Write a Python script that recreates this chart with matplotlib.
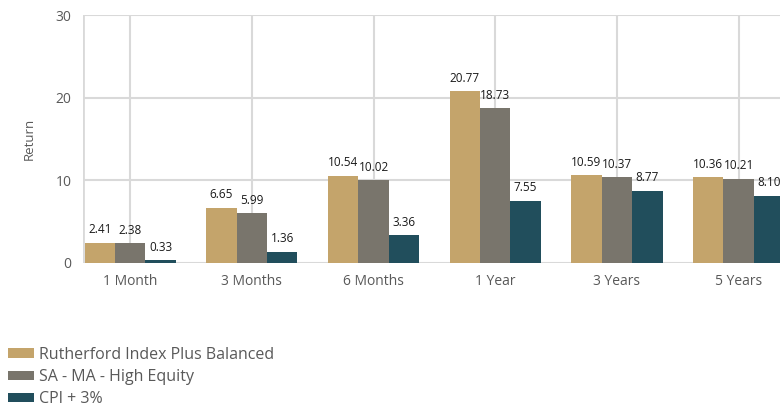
import numpy as np
import matplotlib.pyplot as plt

plt.rcParams['font.family'] = ['Open Sans', 'DejaVu Sans']

periods = ['1 Month', '3 Months', '6 Months', '1 Year', '3 Years', '5 Years']
rutherford = [2.41, 6.65, 10.54, 20.77, 10.59, 10.36]
high_equity = [2.38, 5.99, 10.02, 18.73, 10.37, 10.21]
cpi = [0.33, 1.36, 3.36, 7.55, 8.77, 8.10]

names = ['Rutherford Index Plus Balanced', 'SA - MA - High Equity', 'CPI + 3%']
colors = ['#C4A46B', '#79756C', '#214E5C']

fig = plt.figure(figsize=(7.8, 4.09), dpi=100)
ax = fig.add_axes([0.106, 0.357, 0.894, 0.606])

x = np.arange(len(periods))
w = 0.25
for i, (vals, name, c) in enumerate(zip([rutherford, high_equity, cpi], names, colors)):
    bars = ax.bar(x + (i - 1) * w, vals, w, color=c, label=name, zorder=3)
    for b, v in zip(bars, vals):
        ax.text(b.get_x() + b.get_width() / 2, v + 0.8, f'{v:.2f}',
                ha='center', va='bottom', fontsize=8.5, color='#1a1a1a', zorder=4)

ax.set_xlim(-0.39, 5.34)
ax.set_ylim(0, 30)
ax.set_yticks([0, 10, 20, 30])
ax.set_xticks(x)
ax.set_xticklabels(periods)
ax.grid(True, color='#d9d9d9', linewidth=1.5, zorder=0)
for s in ['top', 'right', 'bottom', 'left']:
    ax.spines[s].set_visible(False)
ax.axhline(0, color='#d9d9d9', linewidth=2, zorder=2)
ax.axvline(-0.39, color='#d9d9d9', linewidth=2, zorder=2)
ax.tick_params(length=0, labelsize=10, colors='#595959', pad=8)
ax.set_ylabel('Return', fontsize=9.5, color='#595959', labelpad=14)

fig.legend(loc='upper left', bbox_to_anchor=(0.0, 0.172), frameon=False,
           fontsize=11.5, handlelength=1.65, handleheight=0.5, handletextpad=0.3,
           labelspacing=0.4, labelcolor='#595959', borderaxespad=0.2,
           borderpad=0.3)

fig.savefig('out.png', dpi=100)
